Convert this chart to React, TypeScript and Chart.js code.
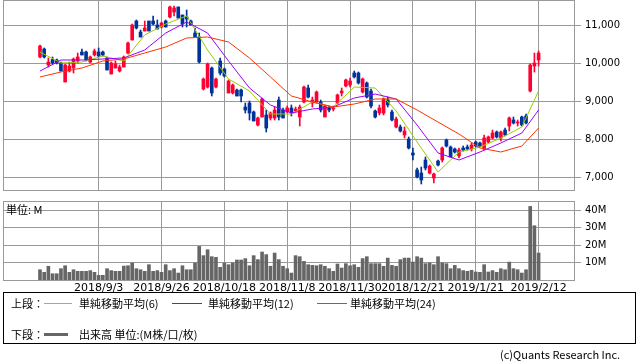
import React, { useEffect, useRef } from 'react';
import { Chart, registerables } from 'chart.js';
Chart.register(...registerables);

// ---- data ----
const tickIndex = [14, 29, 44, 59, 74, 89, 104, 119];
const tickLabels = ['2018/9/3', '2018/9/26', '2018/10/18', '2018/11/8', '2018/11/30', '2018/12/21', '2019/1/21', '2019/2/12'];
const priceTicks = [7000, 8000, 9000, 10000, 11000];
const volumeTicks = [10, 20, 30, 40];

const openP = [10158,10368,9947,10092,10079,10000,9500,9789,9868,10053,10289,10289,10026,10211,10289,10289,10132,9711,9868,9789,9895,10263,10605,11105,10816,10842,11105,11105,11000,10947,11105,11211,11342,11474,11263,11211,11105,10789,10684,9316,9368,9868,9368,10053,9842,9211,9211,9289,9289,8842,8947,8711,8368,8579,8632,8553,8553,9026,8763,8711,8816,8737,8579,8974,9342,8947,8974,8974,8579,8816,8789,8947,9211,9395,9421,9737,9737,9237,9474,9263,8737,8684,8684,9026,8711,8316,8316,8105,8000,7632,7184,7105,7447,7105,6974,7421,7447,7974,7789,7737,7553,7763,7789,7737,7921,7895,7737,7921,8026,8184,8026,8237,8342,8500,8421,8579,8605,9263,9921,10079];
const highP = [10474,10395,10132,10158,10105,10026,9974,10026,10132,10263,10368,10316,10184,10368,10395,10316,10158,10026,10053,9947,10184,10553,11026,11132,10868,11105,11105,11237,11132,11079,11132,11500,11500,11474,11263,11395,11132,10921,10789,9605,10000,9895,9605,10132,9868,9553,9447,9316,9316,8947,9000,8737,8579,9079,8763,8711,8842,9105,8816,8868,8895,8842,8895,9395,9421,9105,9263,9026,8895,8868,8868,9184,9342,9579,9605,9789,9763,9605,9500,9316,8763,8895,9079,9105,8763,8579,8368,8316,8053,7763,7237,7263,7526,7316,7105,7447,7789,8000,7816,7763,7763,7816,7842,7895,7947,7921,8105,8079,8237,8211,8211,8289,8579,8579,8500,8605,8658,9974,10263,10316];
const lowP = [10132,10132,9895,9974,9974,9789,9500,9763,9737,10000,10211,10053,10000,10184,10158,10184,9816,9711,9868,9763,9895,10237,10605,10895,10684,10842,10842,11000,10895,10921,10947,11184,11237,11184,10947,10947,11000,10684,10000,9289,9342,9132,9342,9684,9632,9211,9184,9132,8974,8684,8500,8474,8342,8579,8184,8500,8500,8500,8553,8684,8605,8711,8342,8947,9079,8842,8947,8711,8579,8711,8737,8921,9132,9368,9368,9605,9447,9211,9079,8816,8553,8632,8632,8842,8474,8289,8184,8026,7737,7447,6974,6816,7184,7079,6842,7289,7395,7789,7526,7632,7500,7684,7711,7684,7789,7789,7711,7895,8000,8026,7947,8079,8211,8395,8342,8342,8395,9237,9763,9921];
const closeP = [10447,10158,10026,10000,10000,9789,9947,9921,10105,10158,10211,10079,10158,10316,10184,10211,9816,10000,9974,9895,10158,10526,11000,10921,10684,10921,10842,11026,10895,11053,10947,11474,11447,11184,11026,11158,11000,10684,10026,9579,9974,9211,9579,9737,9658,9526,9421,9132,9132,8763,8684,8474,8553,9053,8289,8684,8763,8579,8553,8816,8684,8789,8842,9368,9105,9026,9237,8763,8868,8763,8816,9158,9263,9553,9526,9632,9474,9579,9105,8868,8579,8816,9053,8895,8500,8526,8211,8211,7763,7579,7000,6921,7237,7289,7079,7316,7763,7816,7526,7658,7711,7711,7737,7842,7816,7816,8026,8053,8158,8053,8184,8105,8553,8421,8447,8368,8421,9947,10000,10263];
const volumeM = [5.9,4.4,7.9,3.6,3.6,6.5,8.2,4.4,5.9,5.0,5.0,5.0,5.4,4.4,2.7,2.7,6.5,5.4,5.0,5.0,8.0,8.2,9.8,6.5,5.9,5.0,8.8,5.0,5.4,4.4,8.8,5.4,6.5,4.0,8.2,5.9,5.9,9.8,19.3,14.0,17.4,13.4,13.0,7.3,9.8,8.8,9.8,11.5,11.5,12.3,8.2,14.0,11.7,16.1,14.6,7.9,15.5,11.7,7.9,6.5,4.0,14.0,13.4,10.7,8.8,8.4,8.2,8.8,7.9,6.5,5.0,9.2,6.9,9.4,8.2,8.8,7.3,12.3,13.4,9.4,9.4,9.4,7.9,12.6,8.4,7.9,11.7,12.6,12.6,10.3,13.4,12.6,9.4,9.8,8.8,13.4,9.8,9.4,6.5,8.4,6.5,5.4,5.0,5.6,4.6,4.4,8.8,4.6,5.4,4.4,6.5,5.9,10.3,6.5,5.9,4.0,5.9,42.3,31.2,15.5];

const maIndex = [0,5,10,15,20,25,30,35,40,45,50,55,60,65,70,75,80,85,90,95,100,105,110,115,119];
const sma6 = [10289,10000,10026,10184,10053,10737,11026,11237,10342,9579,9263,8658,8658,8974,8842,9368,9342,8737,7921,7132,7658,7789,8026,8316,9263];
const sma12 = [9789,10079,10079,10105,10132,10342,10789,11079,10789,10053,9342,8895,8684,8789,8842,9079,9184,9053,8368,7632,7447,7658,7895,8158,8763];
const sma24 = [9632,9763,9868,10053,10105,10263,10421,10658,10684,10553,10132,9632,9132,8974,8842,8921,9053,9053,8763,8447,8132,7763,7658,7816,8289];

// ---- styles ----
const UP = '#ff0033';
const DOWN = '#003399';
const GRID = '#999999';
const X_MIN = -8.83;
const X_MAX = 127.45;

const framePlugin = {
  id: 'frame',
  afterDraw(chart: any) {
    const { ctx, chartArea } = chart;
    const l = Math.round(chartArea.left), t = Math.round(chartArea.top);
    const r = Math.round(chartArea.right), b = Math.round(chartArea.bottom);
    ctx.save();
    ctx.strokeStyle = GRID;
    ctx.lineWidth = 1;
    ctx.strokeRect(l + 0.5, t + 0.5, r - l, b - t);
    ctx.restore();
  },
};

const setTicks = (vals: number[]) => (s: any) => {
  s.ticks = vals.map((v) => ({ value: v }));
};

const xFit = (h: number) => (s: any) => {
  s.height = h;
  s.paddingLeft = 0;
  s.paddingRight = 0;
  s.paddingTop = 0;
  s.paddingBottom = 0;
};
const yFit = (w: number) => (s: any) => {
  s.width = w;
  s.paddingTop = 0;
  s.paddingBottom = 0;
  s.paddingLeft = 0;
  s.paddingRight = 0;
};

export default function App() {
  const priceRef = useRef<HTMLCanvasElement>(null);
  const volRef = useRef<HTMLCanvasElement>(null);

  useEffect(() => {
    const idx = openP.map((_, i) => i);
    const colors = idx.map((i) => (closeP[i] >= openP[i] ? UP : DOWN));
    const line = (vals: number[], color: string) => ({
      type: 'line' as const,
      data: maIndex.map((x, k) => ({ x, y: vals[k] })),
      borderColor: color,
      borderWidth: 1,
      pointRadius: 0,
      tension: 0,
      order: 0,
    });

    const price = new Chart(priceRef.current as HTMLCanvasElement, {
      type: 'line',
      data: {
        datasets: [
          line(sma24, '#ff3300'),
          line(sma12, '#9900ff'),
          line(sma6, '#99cc00'),
          {
            type: 'bar',
            data: idx.map((i) => ({ x: i, y: [openP[i], closeP[i]] })),
            backgroundColor: colors,
            barThickness: 3,
            minBarLength: 1,
            grouped: false,
            order: 1,
          } as any,
          {
            type: 'bar',
            data: idx.map((i) => ({ x: i, y: [lowP[i], highP[i]] })),
            backgroundColor: colors,
            barThickness: 1,
            grouped: false,
            order: 2,
          } as any,
        ],
      },
      options: {
        animation: false,
        responsive: false,
        devicePixelRatio: 1,
        layout: { padding: { left: 3, top: 0, right: 0, bottom: 1 } },
        plugins: { legend: { display: false }, tooltip: { enabled: false }, title: { display: false } },
        scales: {
          x: {
            type: 'linear',
            position: 'bottom',
            offset: false,
            min: X_MIN,
            max: X_MAX,
            grid: { color: GRID, drawTicks: false, offset: false },
            border: { display: false },
            ticks: { display: false },
            afterBuildTicks: setTicks(tickIndex),
            afterFit: xFit(0),
          },
          y: {
            type: 'linear',
            position: 'right',
            min: 6658,
            max: 11658,
            grid: { color: GRID, tickLength: 7 },
            border: { display: false },
            ticks: {
              padding: 4,
              color: '#000',
              font: { family: 'DejaVu Sans', size: 10 },
              callback: (v: any) => Number(v).toLocaleString('en-US'),
            },
            afterBuildTicks: setTicks(priceTicks),
            afterFit: yFit(64),
          },
        },
      } as any,
      plugins: [framePlugin],
    });

    const vol = new Chart(volRef.current as HTMLCanvasElement, {
      type: 'line',
      data: {
        datasets: [
          {
            type: 'bar',
            data: idx.map((i) => ({ x: i, y: volumeM[i] })),
            backgroundColor: '#666666',
            barThickness: 3,
            grouped: false,
          } as any,
        ],
      },
      options: {
        animation: false,
        responsive: false,
        devicePixelRatio: 1,
        layout: { padding: { left: 3, top: 6, right: 0, bottom: 0 } },
        plugins: { legend: { display: false }, tooltip: { enabled: false } },
        scales: {
          x: {
            type: 'linear',
            position: 'bottom',
            offset: false,
            min: X_MIN,
            max: X_MAX,
            grid: { color: GRID, drawTicks: false, offset: false },
            border: { display: false },
            ticks: {
              padding: 2,
              autoSkip: false,
              maxRotation: 0,
              minRotation: 0,
              color: '#000',
              font: { family: 'DejaVu Sans', size: 11 },
              callback: (v: any) => {
                const k = tickIndex.indexOf(Number(v));
                return k >= 0 ? tickLabels[k] : '';
              },
            },
            afterBuildTicks: setTicks(tickIndex),
            afterFit: xFit(15),
          },
          y: {
            type: 'linear',
            position: 'right',
            min: 0,
            max: 45.4,
            grid: { color: GRID, tickLength: 7 },
            border: { display: false },
            ticks: {
              padding: 4,
              color: '#000',
              font: { family: 'DejaVu Sans', size: 10 },
              callback: (v: any) => `${v}M`,
            },
            afterBuildTicks: setTicks(volumeTicks),
            afterFit: yFit(64),
          },
        },
      } as any,
      plugins: [framePlugin],
    });

    return () => {
      price.destroy();
      vol.destroy();
    };
  }, []);

  const jp = '"Noto Sans CJK JP", "DejaVu Sans", sans-serif';
  const txt: React.CSSProperties = { position: 'absolute', fontFamily: jp, fontSize: 11, color: '#000', whiteSpace: 'nowrap', lineHeight: '13px' };
  const seg = (left: number, top: number, width: number, color: string, h = 1): React.CSSProperties => ({
    position: 'absolute', left, top, width, height: h, background: color,
  });

  return (
    <div style={{ position: 'absolute', left: 0, top: 0, width: 638, height: 362, background: '#fff', overflow: 'hidden' }}>
      <canvas ref={priceRef} width={638} height={191} style={{ position: 'absolute', left: 0, top: 0, display: 'block' }} />
      <canvas ref={volRef} width={638} height={100} style={{ position: 'absolute', left: 0, top: 195, display: 'block' }} />
      <div style={{ ...txt, left: 6, top: 203 }}>単位: M</div>
      <div style={{ position: 'absolute', left: 3, top: 292, width: 633, height: 52, border: '1px solid #000', boxSizing: 'border-box' }}>
        <div style={{ ...txt, left: 7, top: 4 }}>上段：</div>
        <div style={seg(40, 10, 28, '#99cc00')} />
        <div style={{ ...txt, left: 75, top: 4 }}>単純移動平均(6)</div>
        <div style={seg(168, 10, 30, '#9900ff')} />
        <div style={{ ...txt, left: 204, top: 4 }}>単純移動平均(12)</div>
        <div style={seg(313, 10, 30, '#ff3300')} />
        <div style={{ ...txt, left: 346, top: 4 }}>単純移動平均(24)</div>
        <div style={{ ...txt, left: 7, top: 35 }}>下段：</div>
        <div style={seg(40, 40, 24, '#666666', 3)} />
        <div style={{ ...txt, left: 75, top: 35 }}>出来高 単位:(M株/口/枚)</div>
      </div>
      <div style={{ ...txt, left: 500, top: 348, fontSize: 11 }}>(c)Quants Research Inc.</div>
    </div>
  );
}
